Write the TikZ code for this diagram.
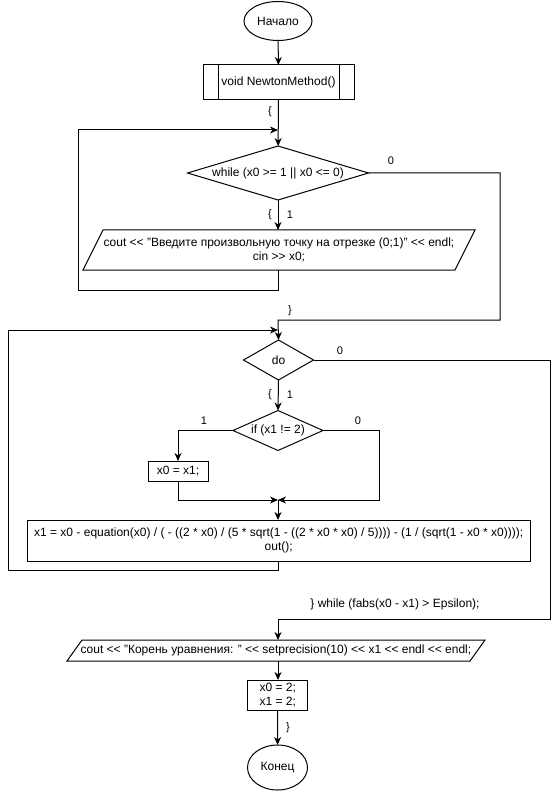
\documentclass[tikz,border=0pt]{standalone}
\usepackage{fontspec}
\setmainfont{Liberation Sans}
\usetikzlibrary{shapes.geometric,arrows.meta,calc}
\begin{document}
\begin{tikzpicture}[x=1pt,y=-1pt,
  every node/.style={font=\fontsize{12}{14.4}\selectfont, inner sep=0pt, outer sep=0pt},
  ln/.style={line width=1pt, draw=black},
  arr/.style={ln, -{Stealth[length=8pt,width=7pt,inset=2.5pt]}},
  term/.style={ln, ellipse},
  proc/.style={ln, rectangle, align=center},
  dec/.style={ln, diamond},
  txt/.style={align=center},
  lbl/.style={font=\fontsize{11}{13}\selectfont}
]
\fill[white] (0,0) rectangle (556,791);
\useasboundingbox (0,0) rectangle (556,791);

% nodes
\node[term, minimum width=68pt, minimum height=39pt] (start) at (278,21) {Начало};
\node[proc, minimum width=151pt, minimum height=35pt] (sub) at (278.5,82.5) {void NewtonMethod()};
\draw[ln] ($(sub.north west)+(15,0)$) -- ($(sub.south west)+(15,0)$);
\draw[ln] ($(sub.north east)+(-15,0)$) -- ($(sub.south east)+(-15,0)$);

\node[dec, minimum width=181pt, minimum height=54pt] (w1) at (278,173) {};
\node[txt] (w1t) at (w1.center) {while (x0 >= 1 || x0 <= 0)};

\node[txt, minimum width=372pt, minimum height=40pt] (p1) at (279,250)
  {cout <{}< "Введите произвольную точку на отрезке (0;1)" <{}< endl;\\cin >{}> x0;};
\draw[ln] ($(p1.south west)+(-10,0)$) -- ($(p1.north west)+(10,0)$) -- ($(p1.north east)+(10,0)$) -- ($(p1.south east)+(-10,0)$) -- cycle;

\node[dec, minimum width=70pt, minimum height=40pt] (do) at (278.5,360) {};
\node[txt] (dot) at (do.center) {do};

\node[dec, minimum width=90pt, minimum height=40pt] (if) at (278,430.5) {};
\node[txt] (ift) at (if.center) {if (x1 != 2)};

\node[proc, minimum width=60pt, minimum height=20pt] (a1) at (178,471) {x0 = x1;};

\node[proc, minimum width=502.6pt, minimum height=41pt] (big) at (278.7,540.5)
  {x1 = x0 - equation(x0) / ( - ((2 * x0) / (5 * sqrt(1 - ((2 * x0 * x0) / 5)))) - (1 / (sqrt(1 - x0 * x0))));\\out();};

\node[txt, minimum width=403pt, minimum height=21pt] (p2) at (276,650.5)
  {cout <{}< "Корень уравнения: " <{}< setprecision(10) <{}< x1 <{}< endl <{}< endl;};
\draw[ln] ($(p2.south west)+(-7.5,0)$) -- ($(p2.north west)+(7.5,0)$) -- ($(p2.north east)+(7.5,0)$) -- ($(p2.south east)+(-7.5,0)$) -- cycle;

\node[proc, minimum width=60pt, minimum height=30pt] (b2) at (277.7,695) {x0 = 2;\\x1 = 2;};
\node[term, minimum width=60pt, minimum height=45pt] (end) at (277.5,767.5) {Конец};

% helper coordinates
\coordinate (j1) at (278,130);
\coordinate (l1) at (78,290);
\coordinate (r1) at (500,320);
\coordinate (k0) at (278,320);
\coordinate (j2) at (278,330);
\coordinate (l2) at (8,570);
\coordinate (r2) at (550,619);
\coordinate (k3) at (278,619);
\coordinate (m) at (278,500);
\coordinate (r3) at (379,500);

% connectors
\draw[arr] (start) -- (sub);
\draw[arr] (sub) -- (w1);
\draw[arr] (w1.south) -- (w1.south |- p1.north);
\draw[arr] (p1.south -| w1.south) |- (l1) |- (j1);
\draw[arr] (w1.east) -| (r1) |- (k0) -- (do.north);
\draw[arr] (big.south -| j2) |- (l2) |- (j2);
\draw[arr] (do.south) -- (if.north);
\draw[arr] (if.west) -| (a1.north);
\draw[arr] (a1.south) |- (m);
\draw[arr] (if.east) -| (r3) |- (m);
\draw[arr] (m) -- (m |- big.north);
\draw[arr] (do.east) -| (r2) |- (k3) -- (k3 |- p2.north);
\draw[arr] (p2.south -| k3) -- (k3 |- b2.north);
\draw[arr] (b2) -- (end);

% labels
\node[lbl] (lb1) at (270,112) {\{};
\node[lbl] (lb2) at (391,161) {0};
\node[lbl] (lb3) at (270,215) {\{};
\node[lbl] (lb4) at (290,215) {1};
\node[lbl] (lb5) at (290,311) {\}};
\node[lbl] (lb6) at (340,351) {0};
\node[lbl] (lb7) at (270,395) {\{};
\node[lbl] (lb8) at (290,395) {1};
\node[lbl] (lb9) at (204,421) {1};
\node[lbl] (lb10) at (358,421) {0};
\node (lb11) at (395,604) {\} while (fabs(x0 - x1) > Epsilon);};
\node[lbl] (lb12) at (288,728) {\}};
\end{tikzpicture}
\end{document}
